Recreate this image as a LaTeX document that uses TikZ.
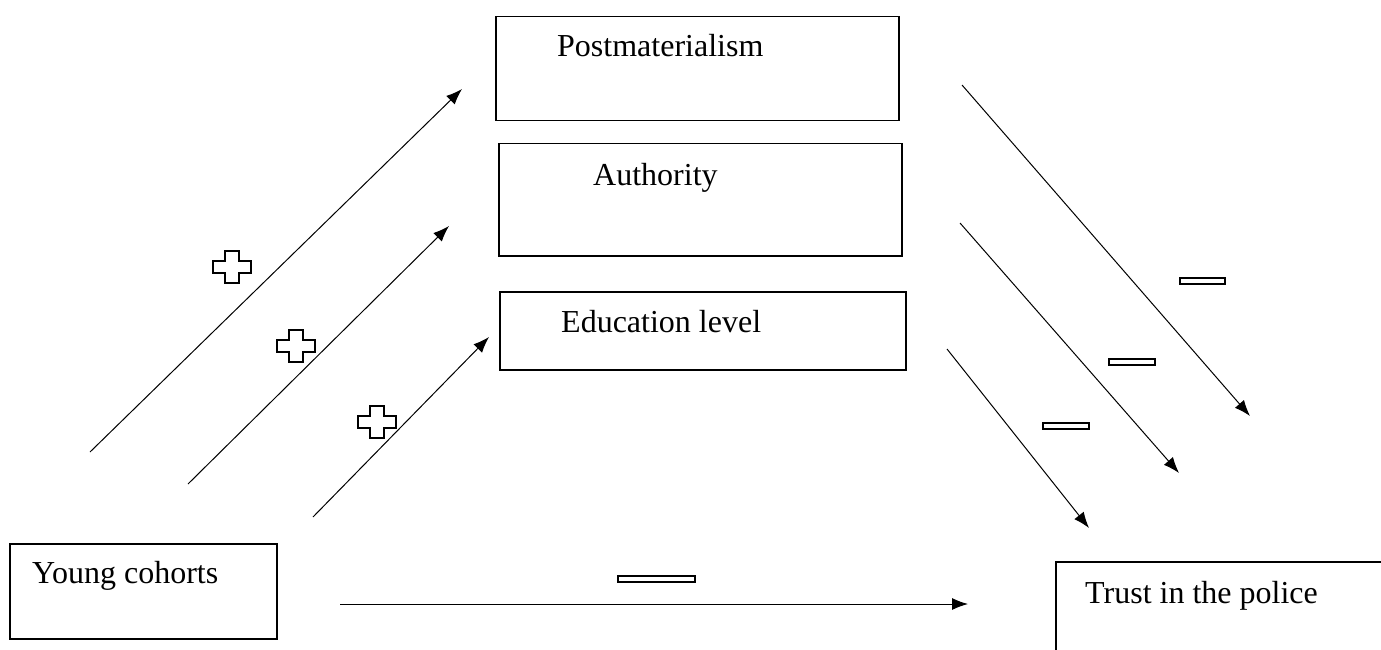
\documentclass[tikz,border=0pt]{standalone}
\usepackage{fontspec}
\setmainfont{Liberation Serif}
\usepackage{tikz}
\usetikzlibrary{arrows.meta}
\newcommand{\plusmark}[1]{\draw[line width=1.8pt, shift={(#1)}] (-7,-16) -- (7,-16) -- (7,-6) -- (19,-6) -- (19,6) -- (7,6) -- (7,16) -- (-7,16) -- (-7,6) -- (-19,6) -- (-19,-6) -- (-7,-6) -- cycle;}
\tikzset{
  box/.style={draw, line width=1.5pt, anchor=north west, inner sep=0pt},
  lbl/.style={anchor=base west, inner sep=0pt, font=\fontsize{32}{38}\selectfont},
  arr/.style={-{Latex[length=16pt,width=12pt]}, line width=1pt},
  minusbox/.style={draw, line width=2pt, minimum height=6pt, inner sep=0pt},
}
\begin{document}
\begin{tikzpicture}[x=1pt,y=-1pt]
            \useasboundingbox (0,0) rectangle (1381,650);
            \clip (0,0) rectangle (1381,650);
            % boxes
            \node [box, minimum width=403pt, minimum height=104pt] (post) at (495,16) {};
            \node [box, minimum width=403pt, minimum height=112pt] (auth) at (498,143) {};
            \node [box, minimum width=406pt, minimum height=78pt] (edu) at (499,291) {};
            \node [box, minimum width=267pt, minimum height=95pt] (young) at (9,543) {};
            \node [box, minimum width=360pt, minimum height=120pt] (trust) at (1055,561) {};
            \node [lbl] (post-t) at (557,57) {Postmaterialism};
            \node [lbl] (auth-t) at (593,185) {Authority};
            \node [lbl] (edu-t) at (561,332) {Education level};
            \node [lbl] (young-t) at (32,583) {Young cohorts};
            \node [lbl] (trust-t) at (1085,603) {Trust in the police};
            % arrow ends
            \coordinate (u1s) at (90,452);   \coordinate (u1e) at (462,89);
            \coordinate (u2s) at (188,484);  \coordinate (u2e) at (449,226);
            \coordinate (u3s) at (313,517);  \coordinate (u3e) at (489,337);
            \coordinate (d1s) at (962,85);   \coordinate (d1e) at (1250,416);
            \coordinate (d2s) at (960,223);  \coordinate (d2e) at (1179,473);
            \coordinate (d3s) at (947,349);  \coordinate (d3e) at (1089,528);
            \coordinate (hs) at (340,604);   \coordinate (he) at (968,604);
            \draw [arr] (u1s) -- (u1e);
            \draw [arr] (u2s) -- (u2e);
            \draw [arr] (u3s) -- (u3e);
            \draw [arr] (d1s) -- (d1e);
            \draw [arr] (d2s) -- (d2e);
            \draw [arr] (d3s) -- (d3e);
            \draw [arr] (hs) -- (he);
            % signs
            \plusmark{232,267}
            \plusmark{296,346}
            \plusmark{377,422}
            \node [minusbox, minimum width=45pt] (m1) at (1202,281) {};
            \node [minusbox, minimum width=46pt] (m2) at (1132,362) {};
            \node [minusbox, minimum width=46pt] (m3) at (1066,426) {};
            \node [minusbox, minimum width=77pt] (m4) at (656,579) {};
        \end{tikzpicture}
\end{document}
